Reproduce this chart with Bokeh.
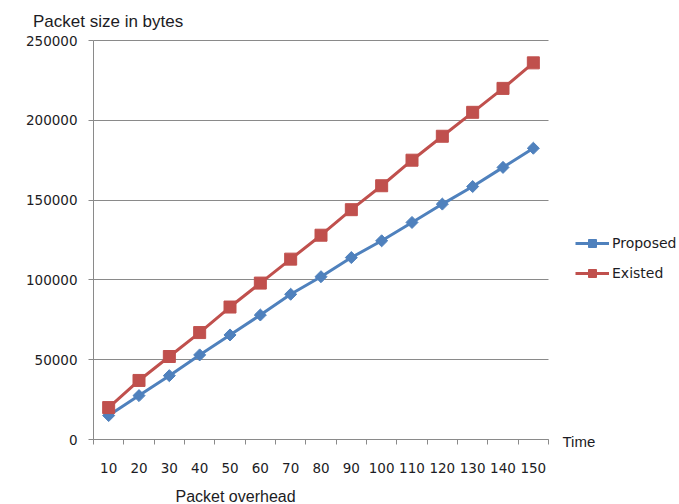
import math
from bokeh.plotting import figure
from bokeh.models import (Range1d, FixedTicker, Label, Legend, LegendItem,
                          LinearAxis, Grid, BasicTickFormatter)
from bokeh.embed import file_html
from bokeh.resources import INLINE

# Packet overhead categories and packet sizes (bytes)
overhead = [10, 20, 30, 40, 50, 60, 70, 80, 90, 100, 110, 120, 130, 140, 150]
proposed = [15000, 27500, 40000, 53000, 65500, 78000, 91000, 102000, 114000,
            124500, 136000, 147500, 158500, 170500, 182500]
existed = [20000, 37000, 52000, 67000, 83000, 98000, 113000, 128000, 144000,
           159000, 175000, 190000, 205000, 220000, 236000]
y_ticks = [0, 50000, 100000, 150000, 200000, 250000]

# page and plotting-area geometry in pixels
W, H = 679, 504
PX_L, PX_R, PX_T, PX_B = 93, 548, 40, 439
X0, X1 = overhead[0] - 5, overhead[-1] + 5
Y0, Y1 = y_ticks[0], y_ticks[-1]
sx = (X1 - X0) / (PX_R - PX_L)
sy = (Y1 - Y0) / (PX_B - PX_T)


def dx(px):
    return X0 + (px - PX_L) * sx


def dy(py):
    return Y0 + (PX_B - py) * sy


SANS = "Liberation Sans"
TICKFONT = "DejaVu Sans"
TEXT = "#1c1c24"
GRID = "#8a8a8a"
BLUE = "#4f81bd"
RED = "#c0504d"

p = figure(width=W, height=H, output_backend="svg", toolbar_location=None,
           x_range=Range1d(dx(0), dx(W)), y_range=Range1d(dy(H), dy(0)),
           x_axis_type=None, y_axis_type=None, min_border=0)
p.outline_line_color = None
p.background_fill_color = "white"
p.border_fill_color = "white"

# category boundaries carry the tick marks, labels sit at category centres
boundaries = [v - 5 for v in overhead] + [overhead[-1] + 5]
xa = LinearAxis(fixed_location=Y0, bounds=(X0, X1),
                ticker=FixedTicker(ticks=overhead, minor_ticks=boundaries))
xa.major_tick_line_color = None
xa.major_tick_out = 0
xa.major_tick_in = 0
xa.minor_tick_out = 5
xa.minor_tick_in = 0
xa.minor_tick_line_color = GRID
xa.axis_line_color = GRID
xa.major_label_standoff = 18
xa.major_label_text_font = TICKFONT
xa.major_label_text_font_size = "13.5px"
xa.major_label_text_color = TEXT
p.add_layout(xa, "below")

ya = LinearAxis(fixed_location=X0, bounds=(Y0, Y1),
                ticker=FixedTicker(ticks=y_ticks),
                formatter=BasicTickFormatter(use_scientific=False))
ya.minor_tick_line_color = None
ya.major_tick_out = 5
ya.major_tick_in = 0
ya.major_tick_line_color = GRID
ya.axis_line_color = GRID
ya.major_label_standoff = 11
ya.major_label_text_font = TICKFONT
ya.major_label_text_font_size = "13.5px"
ya.major_label_text_color = TEXT
p.add_layout(ya, "left")

grid = Grid(dimension=1, ticker=ya.ticker, bounds=(Y0, Y1),
            cross_bounds=(X0, X1), grid_line_color=GRID, grid_line_width=1)
p.add_layout(grid)

r1 = p.line(overhead, proposed, line_color=BLUE, line_width=3)
m1 = p.scatter(overhead, proposed, marker="square", angle=math.pi / 4,
               size=8.5, fill_color=BLUE, line_color=BLUE)
r2 = p.line(overhead, existed, line_color=RED, line_width=3)
m2 = p.scatter(overhead, existed, marker="square", size=12,
               fill_color=RED, line_color=RED)

legend = Legend(items=[LegendItem(label="Proposed", renderers=[r1, m1]),
                       LegendItem(label="Existed", renderers=[r2, m2])],
                location=(575, H - 283), border_line_color=None,
                background_fill_alpha=0, glyph_width=34, glyph_height=20,
                label_height=20, spacing=10,
                label_text_font=TICKFONT, label_text_font_size="14px",
                label_text_color=TEXT, label_standoff=3, padding=0, margin=0)
p.add_layout(legend)

label_style = dict(text_font=SANS, text_color=TEXT, text_baseline="middle")
p.add_layout(Label(x=dx(32.5), y=dy(21), text="Packet size in bytes",
                   text_font_size="17px", **label_style))
p.add_layout(Label(x=dx(562), y=dy(441), text="Time",
                   text_font_size="15px", **label_style))
p.add_layout(Label(x=dx(175), y=dy(496), text="Packet overhead",
                   text_font_size="16px", **label_style))

open("out.html", "w").write(file_html(p, INLINE))
